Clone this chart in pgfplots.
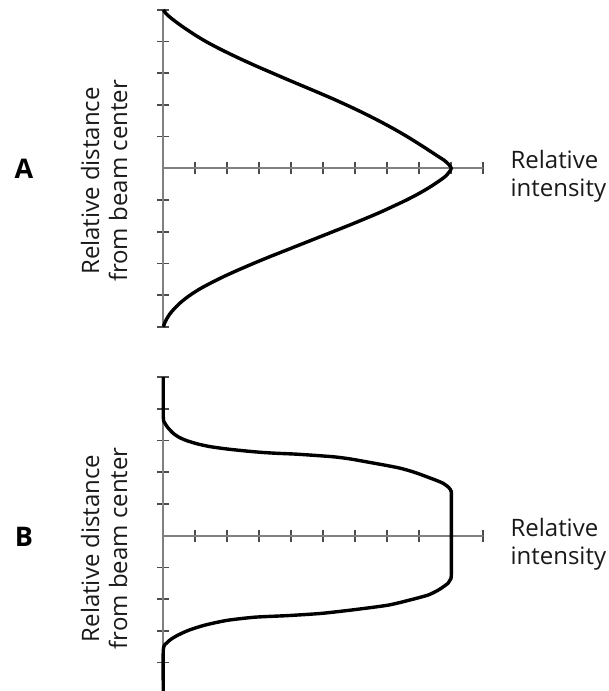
\documentclass[border=0pt]{standalone}
\usepackage{fontspec}
\setmainfont{Open Sans}
\usepackage{pgfplots}
\pgfplotsset{compat=1.18}
\usepackage{pgfplotstable}

% Panel A: relative intensity (x) against relative distance from beam centre (y)
\pgfplotstableread{
x y
0.00 5.00
0.07 4.90
0.17 4.80
0.42 4.60
0.70 4.40
1.00 4.20
1.33 4.00
1.70 3.80
2.10 3.60
2.52 3.40
2.96 3.20
3.42 3.00
3.88 2.80
4.35 2.60
4.82 2.40
5.28 2.20
5.72 2.00
6.14 1.80
6.54 1.60
6.92 1.40
7.28 1.20
7.62 1.00
7.94 0.80
8.25 0.60
8.55 0.40
8.78 0.25
8.92 0.12
9.00 0.00
8.93 -0.12
8.82 -0.25
8.62 -0.40
8.32 -0.60
7.98 -0.80
7.60 -1.00
7.18 -1.20
6.75 -1.40
6.28 -1.60
5.80 -1.80
5.30 -2.00
4.80 -2.20
4.30 -2.40
3.80 -2.60
3.30 -2.80
2.82 -3.00
2.36 -3.20
1.92 -3.40
1.52 -3.60
1.15 -3.80
0.84 -4.00
0.58 -4.20
0.37 -4.40
0.20 -4.60
0.08 -4.80
0.00 -5.00
}\dataA

% Panel B: flat-top profile
\pgfplotstableread{
x y
0.00 5.00
0.00 3.74
0.05 3.55
0.15 3.40
0.31 3.23
0.50 3.10
0.73 3.00
1.05 2.90
1.46 2.81
1.95 2.74
2.50 2.68
3.05 2.63
3.54 2.60
4.20 2.57
5.31 2.49
5.85 2.42
6.35 2.33
6.90 2.23
7.40 2.13
7.85 2.00
8.23 1.86
8.52 1.75
8.75 1.65
8.92 1.52
9.00 1.39
9.00 1.13
9.00 0.00
9.00 -1.24
8.96 -1.40
8.90 -1.50
8.62 -1.70
8.28 -1.87
7.70 -2.03
7.03 -2.19
6.00 -2.33
4.95 -2.45
3.90 -2.52
2.87 -2.57
2.00 -2.67
1.30 -2.82
0.80 -2.98
0.47 -3.13
0.25 -3.26
0.10 -3.39
0.00 -3.60
0.00 -5.00
}\dataB

\pgfplotsset{beamaxis/.style={
  x=32pt, y=31.7pt,
  axis lines=middle,
  xmin=0, xmax=10, ymin=-5, ymax=5,
  enlargelimits=false,
  xtick={1,...,10},
  ytick={-5,-4,-3,-2,-1,1,2,3,4,5},
  xticklabels={}, yticklabels={},
  tick align=center,
  major tick length=12pt,
  axis line style={-, draw=black!50, line width=2pt},
  tick style={draw=black!70, line width=1.7pt},
  anchor=south west,
  clip=false,
}}

\newcommand{\lbl}{\fontsize{24}{30}\selectfont\color{black!90}}

\begin{document}
\begin{tikzpicture}
% Panel A
\begin{axis}[beamaxis, at={(163.3pt,364.2pt)}]
\addplot[black, line width=3.4pt, line join=round, smooth, tension=0.5] table[x=x, y=y] {\dataA};
\end{axis}
% Panel B
\begin{axis}[beamaxis, at={(163.3pt,-3.2pt)}]
\addplot[black, line width=3.4pt, line join=round, smooth, tension=0.4] table[x=x, y=y] {\dataB};
\end{axis}

% Labels for A
\node[font=\fontsize{27}{30}\selectfont\bfseries] at (24pt,522pt) {A};
\node[rotate=90, anchor=base, font=\lbl] at (99pt,510pt) {Relative distance};
\node[rotate=90, anchor=base, font=\lbl] at (127pt,510pt) {from beam center};
\node[anchor=base west, font=\lbl] at (507pt,522pt) {Relative};
\node[anchor=base west, font=\lbl] at (507pt,494pt) {intensity};

% Labels for B
\node[font=\fontsize{27}{30}\selectfont\bfseries] at (24pt,154.6pt) {B};
\node[rotate=90, anchor=base, font=\lbl] at (99pt,142.6pt) {Relative distance};
\node[rotate=90, anchor=base, font=\lbl] at (127pt,142.6pt) {from beam center};
\node[anchor=base west, font=\lbl] at (507pt,154.6pt) {Relative};
\node[anchor=base west, font=\lbl] at (507pt,126.6pt) {intensity};

\pgfresetboundingbox
\path[use as bounding box] (0pt,0pt) rectangle (608pt,691pt);
\end{tikzpicture}
\end{document}
